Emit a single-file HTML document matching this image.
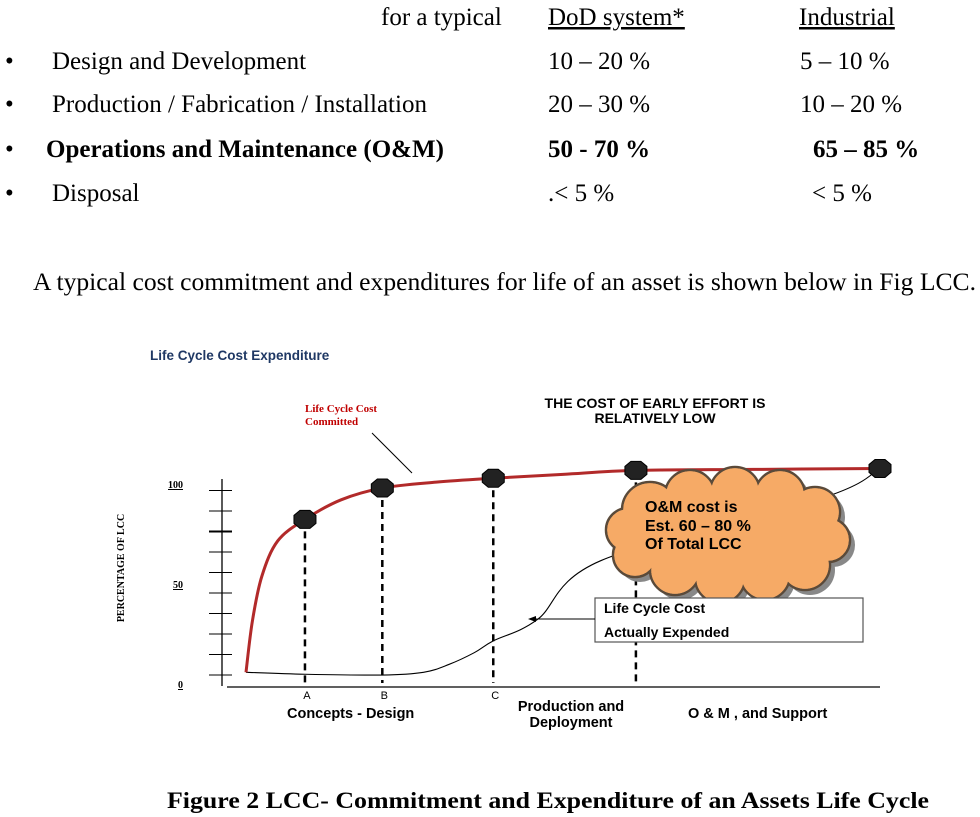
<!DOCTYPE html>
<html><head><meta charset="utf-8"><style>
html,body{margin:0;padding:0;background:#fff;}
svg{display:block;}
.tr{font-family:"Liberation Serif",serif;font-size:25px;fill:#000;}
.ss{font-family:"Liberation Sans",sans-serif;font-weight:bold;fill:#000;}
</style></head><body>
<svg id="chart" width="980" height="817" viewBox="0 0 980 817" xmlns="http://www.w3.org/2000/svg">
<g>
<text class="tr" x="381" y="25">for a typical</text>
<text class="tr" x="548" y="25" text-decoration="underline">DoD system*</text>
<text class="tr" x="799" y="25" text-decoration="underline">Industrial</text>
<text class="tr" x="5" y="69">•</text>
<text class="tr" x="52" y="69">Design and Development</text>
<text class="tr" x="548" y="69">10 – 20 %</text>
<text class="tr" x="800" y="69">5 – 10 %</text>
<text class="tr" x="5" y="112">•</text>
<text class="tr" x="52" y="112">Production / Fabrication / Installation</text>
<text class="tr" x="548" y="112">20 – 30 %</text>
<text class="tr" x="800" y="112">10 – 20 %</text>
<text class="tr" x="5" y="157">•</text>
<text class="tr" x="46" y="157" font-weight="bold">Operations and Maintenance (O&amp;M)</text>
<text class="tr" x="548" y="157" font-weight="bold">50 -  70 %</text>
<text class="tr" x="813" y="157" font-weight="bold">65 – 85 %</text>
<text class="tr" x="5" y="201">•</text>
<text class="tr" x="52" y="201">Disposal</text>
<text class="tr" x="548" y="201">.&lt; 5 %</text>
<text class="tr" x="812" y="201">&lt; 5 %</text>
</g>
<text class="tr" x="33" y="290" textLength="943" lengthAdjust="spacingAndGlyphs">A typical cost commitment and expenditures for life of an asset is shown below in Fig LCC.</text>

<text x="150" y="360" font-family="Liberation Sans, sans-serif" font-weight="bold" font-size="13.5" fill="#1f3864">Life Cycle Cost Expenditure</text>
<text x="305" y="412" font-family="Liberation Serif, serif" font-weight="bold" font-size="11" fill="#c00000">Life Cycle Cost</text>
<text x="305" y="425" font-family="Liberation Serif, serif" font-weight="bold" font-size="11" fill="#c00000">Committed</text>
<line x1="372" y1="433" x2="412" y2="473" stroke="#000" stroke-width="1"/>
<text class="ss" x="655" y="408" font-size="14" text-anchor="middle">THE COST OF EARLY EFFORT IS</text>
<text class="ss" x="655" y="423" font-size="14" text-anchor="middle">RELATIVELY LOW</text>
<text x="124" y="568" transform="rotate(-90 124 568)" text-anchor="middle" font-family="Liberation Serif, serif" font-weight="bold" font-size="10">PERCENTAGE OF LCC</text>

<g id="axes"></g>
<g id="dashes"></g>
<g id="series"></g>

<g id="cloud"></g>
<text class="ss" x="645" y="512" font-size="16">O&amp;M cost  is</text>
<text class="ss" x="645" y="531" font-size="16">Est. 60 – 80 %</text>
<text class="ss" x="645" y="549" font-size="16">Of Total LCC</text>

<rect x="595" y="598" width="268" height="44" fill="#fff" stroke="#555" stroke-width="1.2"/>
<text class="ss" x="604" y="613" font-size="14">Life Cycle Cost</text>
<text class="ss" x="604" y="637" font-size="14">Actually Expended</text>
<line x1="595" y1="619" x2="534" y2="619" stroke="#000" stroke-width="1"/>
<polygon points="528,619 536,616 536,622" fill="#000"/>

<text class="ss" x="287" y="718" font-size="14.5">Concepts - Design</text>
<text class="ss" x="571" y="711" font-size="14.5" text-anchor="middle">Production and</text>
<text class="ss" x="571" y="727" font-size="14.5" text-anchor="middle">Deployment</text>
<text class="ss" x="688" y="718" font-size="14.5">O &amp; M , and Support</text>

<text x="167" y="808" font-family="Liberation Serif, serif" font-weight="bold" font-size="23" textLength="762" lengthAdjust="spacingAndGlyphs">Figure 2  LCC- Commitment and Expenditure of an Assets Life Cycle</text>
</svg>
<script>
const timeVals = [0, 1, 2.5, 5, 9.3, 15, 21.5, 30, 39, 50, 61.5, 80, 100];
const committedVals = [7, 33, 56, 74, 85, 95, 101, 104, 106, 108, 110, 110.5, 111];
const expTime = [0, 9.3, 21.5, 28, 32, 36, 39, 46, 56, 91, 100];
const expendedVals = [7, 6, 5.6, 7, 11, 17, 23, 34, 64, 96, 111];
const milestoneTimes = [9.3, 21.5, 39, 61.5, 100];
const milestoneVals = [85, 101, 106, 110, 111];
const milestoneLabels = ["A", "B", "C", "", ""];
const yTickVals = [0, 10, 20, 30, 40, 50, 60, 70, 80, 90];
const yTickLabels = ["0", "50", "100"];
const yLabelVals = [0, 50, 100];

const NS = "http://www.w3.org/2000/svg";
const xS = t => 246 + t * 6.34;
const yS = v => 686 - v * 1.96;
function mk(tag, attrs, parent) { const e = document.createElementNS(NS, tag); for (const k in attrs) e.setAttribute(k, attrs[k]); parent.appendChild(e); return e; }

const axes = document.getElementById('axes');
let el = mk('line', {x1: 222, y1: 479, x2: 222, y2: 686, stroke: '#000', 'stroke-width': 1.3}, axes);


el = mk('line', {x1: 227, y1: 687, x2: 880, y2: 687, stroke: '#000', 'stroke-width': 1.3}, axes);


yTickVals.forEach((v, i) => {
  const y = 675 - (v / 10) * 20.5;
  const t = mk('line', {x1: 209, y1: y, x2: 232, y2: y, stroke: '#000', 'stroke-width': v === 70 ? 2 : 1}, axes);
  
  
});
yLabelVals.forEach((v, i) => {
  const t = mk('text', {x: 183, y: 688 - v * 2.0, 'text-anchor': 'end', 'font-family': 'Liberation Serif, serif', 'font-weight': 'bold', 'font-size': 10, 'text-decoration': 'underline'}, axes);
  t.textContent = yTickLabels[i];
  
  
});

const dashes = document.getElementById('dashes');
milestoneTimes.forEach((t, i) => {
  if (i === milestoneTimes.length - 1) return;
  const x = xS(t);
  const l = mk('line', {x1: x, y1: yS(milestoneVals[i]), x2: x, y2: 683, stroke: '#000', 'stroke-width': 2.5, 'stroke-dasharray': '7,5'}, dashes);
  
  
  if (milestoneLabels[i]) {
    const tx = mk('text', {x: x + 2, y: 699, 'text-anchor': 'middle', 'font-family': 'Liberation Sans, sans-serif', 'font-size': 11}, dashes);
    tx.textContent = milestoneLabels[i];
    
    
  }
});

function smooth(xs, ys) {
  const p = xs.map((t, i) => [xS(t), yS(ys[i])]);
  let d = `M${p[0][0]},${p[0][1]}`;
  for (let i = 0; i < p.length - 1; i++) {
    const p0 = p[i - 1] || p[i], p1 = p[i], p2 = p[i + 1], p3 = p[i + 2] || p2;
    const c1 = [p1[0] + (p2[0] - p0[0]) / 6, p1[1] + (p2[1] - p0[1]) / 6];
    const c2 = [p2[0] - (p3[0] - p1[0]) / 6, p2[1] - (p3[1] - p1[1]) / 6];
    d += ` C${c1[0]},${c1[1]} ${c2[0]},${c2[1]} ${p2[0]},${p2[1]}`;
  }
  return d;
}
const series = document.getElementById('series');
el = mk('path', {d: smooth(expTime, expendedVals), fill: 'none', stroke: '#000', 'stroke-width': 1.1}, series);


el = mk('path', {d: smooth(timeVals, committedVals), fill: 'none', stroke: '#b22a2a', 'stroke-width': 3}, series);


milestoneTimes.forEach((t, i) => {
  const cx = xS(t), cy = yS(milestoneVals[i]);
  const a = 11, b = 9, c = 5, dd = 4;
  const pts = [[cx - c, cy - b], [cx + c, cy - b], [cx + a, cy - dd], [cx + a, cy + dd], [cx + c, cy + b], [cx - c, cy + b], [cx - a, cy + dd], [cx - a, cy - dd]].map(q => q.join(',')).join(' ');
  const o = mk('polygon', {points: pts, fill: '#222', stroke: '#000'}, series);
  
  
});

const cloud = document.getElementById('cloud');
const circ = [[650,510,28],[690,495,25],[735,492,25],[780,495,25],[815,512,25],[828,540,22],[805,565,25],[765,575,25],[720,578,25],[675,570,25],[635,555,22],[628,530,22],[730,535,50],[790,540,35],[680,535,40]];
circ.forEach(c => mk('circle', {cx: c[0] + 5, cy: c[1] + 5, r: c[2], fill: '#888'}, cloud));
circ.forEach(c => mk('circle', {cx: c[0], cy: c[1], r: c[2], fill: '#f6aa66', stroke: '#5a4a3a', 'stroke-width': 2.5}, cloud));
circ.forEach(c => mk('circle', {cx: c[0], cy: c[1], r: c[2] - 1.2, fill: '#f6aa66'}, cloud));
</script>
</body></html>
